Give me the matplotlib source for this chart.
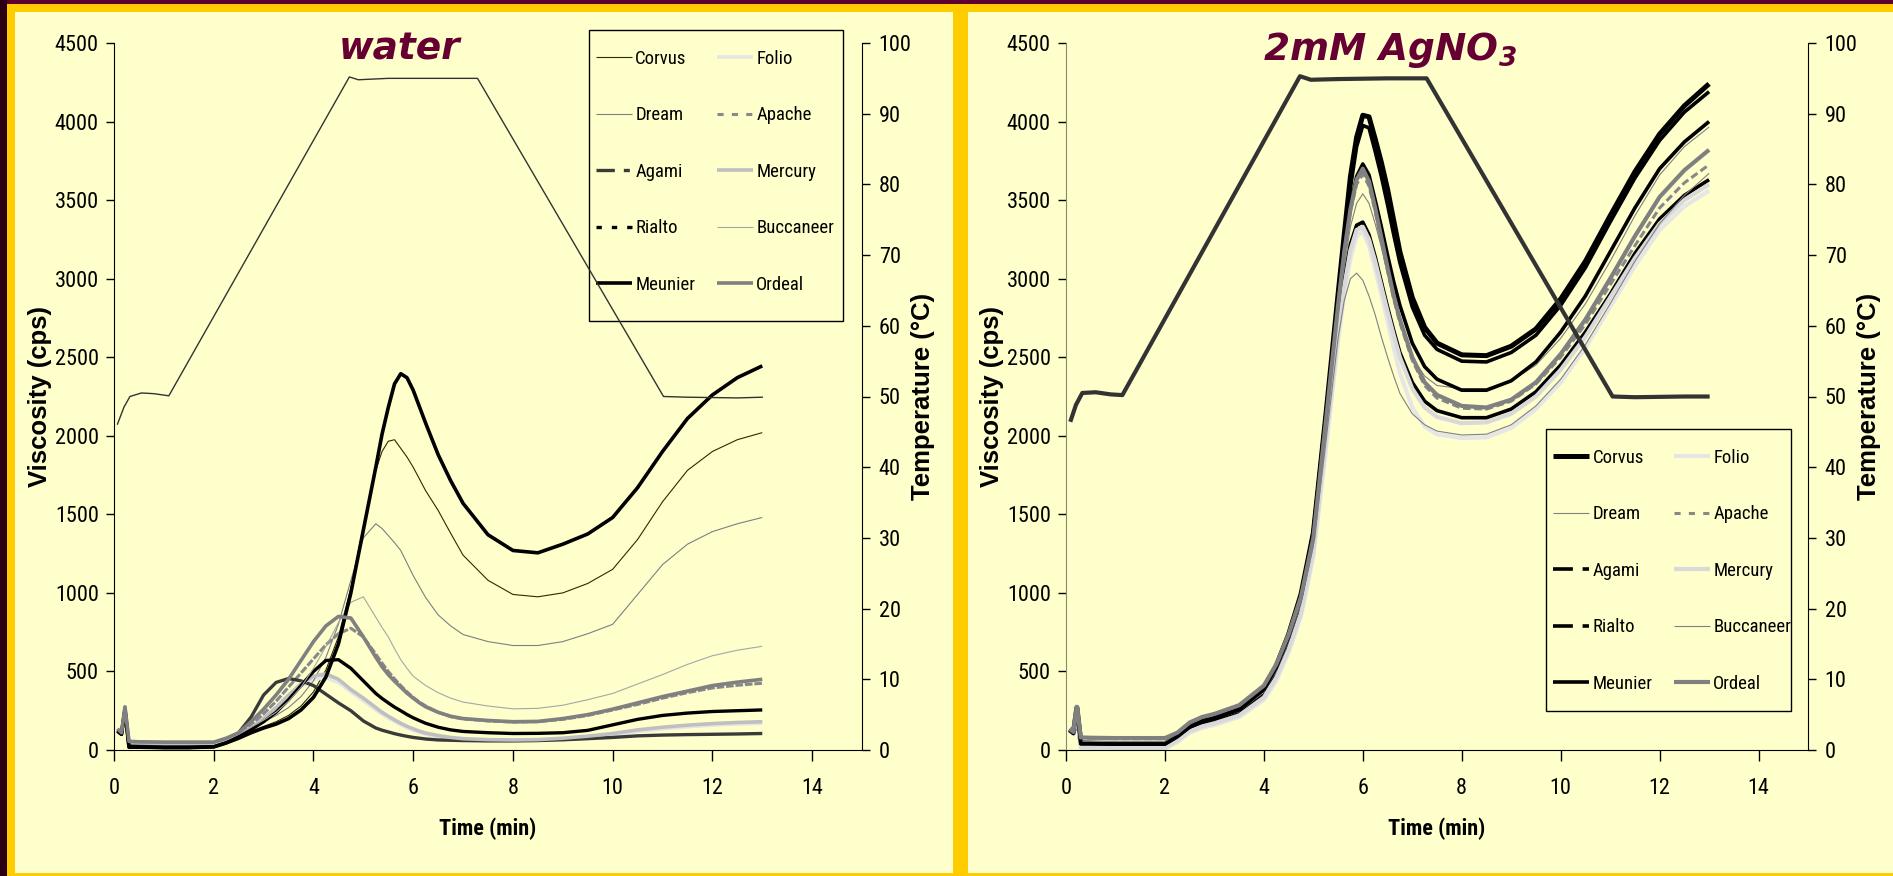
import matplotlib
matplotlib.use("Agg")
import matplotlib.pyplot as plt
import matplotlib.font_manager as fm
from matplotlib.patches import Rectangle
from matplotlib.lines import Line2D
from matplotlib.font_manager import FontProperties

# ---------------- data ----------------
t_water = [0.07, 0.15, 0.22, 0.3, 0.5, 1.0, 1.5, 2.0,
           2.25, 2.5, 2.75, 3.0, 3.25, 3.5, 3.75, 4.0, 4.25, 4.5, 4.75, 5.0,
           5.25, 5.375, 5.5, 5.625, 5.75, 5.875, 6.0, 6.125, 6.25, 6.5, 6.75, 7.0,
           7.5, 8.0, 8.5, 9.0, 9.5, 10.0, 10.5, 11.0, 11.5, 12.0, 12.5, 13.0]

water_corvus = [125, 105, 265, 30, 30, 28, 28, 30,
                55, 85, 120, 150, 180, 220, 280, 370, 510, 720, 1030, 1420,
                1780, 1900, 1965, 1975, 1920, 1865, 1800, 1725, 1650, 1525, 1380, 1240,
                1080, 990, 975, 1000, 1060, 1150, 1340, 1580, 1780, 1900, 1975, 2020]
water_folio = [130, 105, 270, 55, 52, 50, 50, 50,
               70, 95, 145, 200, 265, 340, 405, 450, 460, 430, 370, 315,
               255, 228, 205, 182, 160, 141, 125, 112, 100, 85, 75, 68,
               62, 60, 62, 70, 82, 98, 118, 135, 148, 158, 165, 170]
water_dream = [130, 105, 270, 45, 42, 40, 40, 40,
               65, 100, 140, 180, 220, 270, 340, 440, 590, 800, 1080, 1350,
               1440, 1410, 1365, 1320, 1270, 1190, 1110, 1040, 970, 860, 790, 735,
               690, 665, 665, 690, 740, 800, 990, 1180, 1310, 1390, 1440, 1480]
water_apache = [130, 105, 270, 52, 50, 48, 48, 48,
                70, 100, 160, 230, 310, 400, 490, 580, 670, 740, 775, 720,
                610, 553, 500, 453, 410, 370, 335, 305, 280, 240, 212, 198,
                185, 178, 180, 195, 220, 255, 290, 330, 365, 395, 412, 425]
water_agami = [125, 100, 260, 35, 32, 30, 30, 30,
               55, 110, 210, 350, 430, 455, 440, 410, 355, 300, 250, 185,
               140, 126, 115, 104, 95, 87, 80, 75, 70, 64, 62, 60,
               58, 58, 60, 65, 72, 80, 90, 95, 98, 100, 102, 105]
water_mercury = [130, 105, 270, 48, 45, 42, 42, 42,
                 62, 90, 140, 200, 270, 350, 420, 470, 485, 450, 385, 330,
                 270, 240, 215, 192, 170, 151, 135, 120, 108, 92, 80, 72,
                 66, 64, 66, 75, 88, 105, 128, 145, 158, 168, 175, 180]
water_rialto = [120, 100, 255, 20, 20, 16, 16, 20,
                45, 85, 130, 180, 240, 320, 410, 500, 570, 575, 520, 440,
                360, 328, 300, 273, 250, 226, 205, 187, 170, 145, 128, 118,
                110, 105, 106, 110, 125, 160, 195, 220, 235, 245, 250, 255]
water_buccaneer = [130, 105, 270, 50, 45, 42, 42, 42,
                   65, 100, 145, 190, 240, 310, 400, 520, 660, 810, 940, 975,
                   845, 780, 720, 645, 575, 520, 470, 440, 410, 365, 330, 305,
                   280, 262, 265, 285, 320, 360, 420, 480, 545, 600, 635, 660]
water_meunier = [120, 100, 255, 18, 18, 15, 15, 20,
                 45, 75, 110, 140, 165, 200, 255, 335, 465, 675, 1000, 1400,
                 1800, 2010, 2180, 2330, 2395, 2370, 2290, 2185, 2080, 1880, 1715, 1570,
                 1370, 1270, 1255, 1310, 1375, 1480, 1670, 1900, 2110, 2260, 2370, 2445]
water_ordeal = [135, 110, 275, 55, 52, 50, 50, 50,
                75, 110, 180, 260, 350, 450, 570, 690, 790, 850, 840, 720,
                590, 530, 480, 438, 400, 362, 330, 300, 275, 240, 215, 200,
                188, 180, 182, 200, 225, 260, 300, 340, 375, 410, 432, 450]

t_temp_water = [0.07, 0.2, 0.32, 0.55, 0.8, 1.1, 4.72, 4.9, 5.5, 6.5, 7.29, 11.02, 11.5, 12.5, 13.0]
temp_water = [46.1, 48.5, 50.0, 50.5, 50.4, 50.1, 95.2, 94.8, 95.0, 95.0, 95.0, 50.0, 49.9, 49.8, 49.9]

t_agno3 = [0.07, 0.15, 0.22, 0.3, 0.5, 1.0, 1.5, 2.0,
           2.25, 2.5, 2.75, 3.0, 3.5, 4.0, 4.25, 4.5, 4.75, 5.0, 5.25, 5.5,
           5.625, 5.75, 5.875, 6.0, 6.125, 6.25, 6.375, 6.5, 6.625, 6.75, 7.0, 7.25, 7.5,
           8.0, 8.5, 9.0, 9.5, 10.0, 10.5, 11.0, 11.5, 12.0, 12.5, 13.0]

agno3_corvus = [130, 110, 270, 45, 42, 40, 40, 40,
                90, 150, 185, 205, 265, 395, 535, 735, 990, 1380, 2120, 2900,
                3280, 3650, 3900, 4040, 4030, 3890, 3740, 3570, 3370, 3170, 2880, 2690, 2590,
                2515, 2510, 2570, 2680, 2870, 3110, 3400, 3680, 3920, 4100, 4240]
agno3_folio = [125, 100, 260, 10, 10, 8, 8, 8,
               50, 110, 140, 160, 210, 320, 440, 620, 850, 1230, 1900, 2600,
               2900, 3130, 3270, 3300, 3210, 3060, 2900, 2730, 2560, 2400, 2180, 2060, 2010,
               1985, 1990, 2050, 2170, 2340, 2560, 2820, 3080, 3310, 3460, 3560]
agno3_dream = [130, 105, 270, 60, 58, 55, 55, 55,
               95, 160, 195, 215, 270, 400, 535, 730, 970, 1340, 2050, 2760,
               3080, 3330, 3480, 3540, 3480, 3350, 3200, 3040, 2870, 2720, 2500, 2380, 2320,
               2300, 2300, 2350, 2450, 2620, 2840, 3110, 3400, 3660, 3840, 3965]
agno3_apache = [130, 110, 270, 75, 75, 72, 72, 72,
                105, 170, 205, 225, 280, 405, 540, 730, 975, 1370, 2120, 2860,
                3180, 3430, 3600, 3665, 3590, 3430, 3240, 3050, 2870, 2720, 2480, 2320, 2240,
                2175, 2170, 2220, 2330, 2500, 2710, 2960, 3210, 3450, 3610, 3725]
agno3_agami = [125, 105, 260, 30, 30, 28, 28, 28,
               70, 130, 160, 180, 230, 350, 480, 665, 900, 1300, 2000, 2700,
               2990, 3220, 3340, 3360, 3280, 3140, 2980, 2820, 2670, 2530, 2340, 2220, 2160,
               2115, 2115, 2170, 2280, 2450, 2660, 2900, 3160, 3380, 3530, 3630]
agno3_mercury = [130, 105, 270, 20, 18, 15, 15, 15,
                 60, 120, 150, 170, 220, 335, 460, 640, 870, 1260, 1950, 2650,
                 2950, 3180, 3310, 3330, 3250, 3110, 2950, 2790, 2640, 2500, 2300, 2180, 2120,
                 2080, 2085, 2140, 2250, 2420, 2630, 2880, 3130, 3350, 3500, 3600]
agno3_rialto = [125, 105, 265, 40, 40, 38, 38, 38,
                85, 150, 185, 205, 260, 390, 530, 725, 980, 1390, 2130, 2870,
                3200, 3470, 3650, 3730, 3660, 3500, 3330, 3150, 2980, 2830, 2590, 2440, 2360,
                2290, 2290, 2350, 2470, 2660, 2890, 3170, 3450, 3700, 3870, 4000]
agno3_buccaneer = [130, 105, 270, 55, 55, 52, 52, 52,
                   90, 150, 180, 200, 250, 370, 500, 690, 930, 1300, 1950, 2620,
                   2860, 3000, 3035, 2990, 2890, 2770, 2630, 2500, 2380, 2270, 2140, 2070, 2030,
                   2005, 2010, 2070, 2190, 2360, 2580, 2840, 3110, 3350, 3530, 3670]
agno3_meunier = [130, 110, 270, 40, 40, 38, 38, 38,
                 85, 145, 180, 200, 255, 385, 525, 720, 975, 1380, 2120, 2880,
                 3250, 3580, 3840, 3975, 3960, 3810, 3650, 3470, 3280, 3100, 2820, 2640, 2550,
                 2475, 2470, 2530, 2640, 2830, 3070, 3360, 3640, 3880, 4060, 4190]
agno3_ordeal = [135, 115, 275, 80, 78, 76, 76, 76,
                110, 175, 210, 230, 285, 410, 545, 735, 975, 1350, 2080, 2830,
                3170, 3440, 3630, 3700, 3620, 3450, 3260, 3070, 2890, 2740, 2500, 2340, 2260,
                2190, 2180, 2230, 2340, 2520, 2740, 3000, 3270, 3520, 3690, 3820]

t_temp_agno3 = [0.1, 0.2, 0.33, 0.6, 0.9, 1.14, 4.73, 4.95, 5.5, 6.5, 7.29, 11.05, 11.5, 12.5, 12.97]
temp_agno3 = [46.7, 48.8, 50.5, 50.6, 50.3, 50.2, 95.3, 94.8, 94.9, 95.0, 95.0, 50.0, 49.9, 50.0, 50.0]

varieties = ["Corvus", "Folio", "Dream", "Apache", "Agami",
             "Mercury", "Rialto", "Buccaneer", "Meunier", "Ordeal"]
water_series = [water_corvus, water_folio, water_dream, water_apache, water_agami,
                water_mercury, water_rialto, water_buccaneer, water_meunier, water_ordeal]
agno3_series = [agno3_corvus, agno3_folio, agno3_dream, agno3_apache, agno3_agami,
                agno3_mercury, agno3_rialto, agno3_buccaneer, agno3_meunier, agno3_ordeal]

visc_ticks = list(range(0, 4501, 500))
temp_ticks = list(range(0, 101, 10))
time_ticks = list(range(0, 15, 2))

# ---------------- fonts ----------------
def pick_narrow():
    entries = fm.fontManager.ttflist
    names = {f.name for f in entries}
    for cand in ("Liberation Sans Narrow", "Arial Narrow", "Roboto Condensed",
                 "DejaVu Sans Condensed", "Open Sans Condensed", "Noto Sans Condensed"):
        if cand in names:
            return dict(family=[cand, "DejaVu Sans"]), True
    for f in entries:
        if f.stretch in ("condensed", "semi-condensed") and f.style == "normal" \
                and f.name in ("DejaVu Sans", "Noto Sans", "Roboto", "Open Sans", "Liberation Sans"):
            return dict(family=[f.name, "DejaVu Sans"], stretch="condensed"), True
    return dict(family=["Liberation Sans", "DejaVu Sans"]), False


NARROW_KW, HAVE_NARROW = pick_narrow()
TICK_SIZE = 16 if HAVE_NARROW else 14
LEG_SIZE = 13.5 if HAVE_NARROW else 11.5

# ---------------- styles ----------------
DASHDOT = (0, (5.5, 2.7, 1.8, 2.7))
water_styles = {
    "Corvus": dict(color="#2B2B00", lw=0.8, ls="-", pls="-"),
    "Folio": dict(color="#E6E6E6", lw=2.6, ls="-", pls="-"),
    "Dream": dict(color="#7F7F7F", lw=0.8, ls="-", pls="-"),
    "Apache": dict(color="#888888", lw=2.2, ls=(0, (2, 2.7)), pls=(0, (2.5, 0.6))),
    "Agami": dict(color="#3A3A3A", lw=2.4, ls=DASHDOT, pls="-"),
    "Mercury": dict(color="#BFBFBF", lw=2.6, ls="-", pls="-"),
    "Rialto": dict(color="black", lw=2.4, ls=(0, (1.6, 3.0)), pls="-"),
    "Buccaneer": dict(color="#A6A6A6", lw=0.8, ls="-", pls="-"),
    "Meunier": dict(color="black", lw=2.6, ls="-", pls="-"),
    "Ordeal": dict(color="#808080", lw=2.6, ls="-", pls="-"),
}
agno3_styles = {
    "Corvus": dict(color="black", lw=3.6, ls="-", pls="-"),
    "Folio": dict(color="#E6E6E6", lw=3.0, ls="-", pls="-"),
    "Dream": dict(color="#808080", lw=0.8, ls="-", pls="-"),
    "Apache": dict(color="#888888", lw=2.2, ls=(0, (2, 2.7)), pls=(0, (2.5, 1.2))),
    "Agami": dict(color="black", lw=2.6, ls=DASHDOT, pls="-"),
    "Mercury": dict(color="#D9D9D9", lw=3.0, ls="-", pls="-"),
    "Rialto": dict(color="black", lw=2.6, ls=DASHDOT, pls="-"),
    "Buccaneer": dict(color="#808080", lw=0.8, ls="-", pls="-"),
    "Meunier": dict(color="black", lw=2.6, ls="-", pls="-"),
    "Ordeal": dict(color="#808080", lw=3.0, ls="-", pls="-"),
}

GOLD = "#FFCC00"
PANEL = "#FFFFCC"
TITLE_C = "#660033"

plt.rcParams["font.family"] = NARROW_KW["family"]
if "stretch" in NARROW_KW:
    plt.rcParams["font.stretch"] = NARROW_KW["stretch"]
plt.rcParams["mathtext.fontset"] = "custom"
plt.rcParams["mathtext.rm"] = "DejaVu Sans:bold:italic"
plt.rcParams["mathtext.it"] = "DejaVu Sans:bold:italic"
plt.rcParams["mathtext.default"] = "rm"

W, H = 1893, 876
fig = plt.figure(figsize=(W / 100, H / 100), dpi=100)
fig.patch.set_facecolor(GOLD)


def fx(px):
    return px / W


def fy(py):
    return 1 - py / H


def rect_px(x0, y0, x1, y1, color):
    fig.add_artist(Rectangle((fx(x0), fy(y1)), (x1 - x0) / W, (y1 - y0) / H,
                             transform=fig.transFigure, facecolor=color,
                             edgecolor="none", zorder=-5))


# frame decoration
rect_px(0, 0, W, 4, "#5E0030")
rect_px(0, 0, 7, H, "#2A0012")
rect_px(15, 12, 953, 873, PANEL)
rect_px(968, 12, W, 873, PANEL)

legend_order = ["Corvus", "Dream", "Agami", "Rialto", "Meunier",
                "Folio", "Apache", "Mercury", "Buccaneer", "Ordeal"]


def make_panel(x0, x1, t, series, styles, t_temp, temp, temp_lw, box, spine_c):
    ax = fig.add_axes([fx(x0), fy(750), (x1 - x0) / W, (750 - 43) / H])
    ax.set_facecolor("none")
    for name, vals in zip(varieties, series):
        st = styles[name]
        ax.plot(t, vals, color=st["color"], lw=st["lw"], linestyle=st["pls"],
                solid_capstyle="butt", dash_capstyle="butt", solid_joinstyle="round")
    ax.set_xlim(0, 15)
    ax.set_ylim(0, 4500)
    ax.set_xticks(time_ticks)
    ax.set_yticks(visc_ticks)
    ax.spines["top"].set_visible(False)
    ax.spines["right"].set_visible(False)
    ax.spines["left"].set_color(spine_c)
    ax.spines["bottom"].set_color("black")
    ax.tick_params(axis="y", direction="out", length=6, width=1, pad=5, labelsize=TICK_SIZE)
    ax.tick_params(axis="x", direction="out", length=8, width=1, pad=12, labelsize=TICK_SIZE)
    ax.set_xlabel("Time (min)", fontsize=16, fontweight="bold")
    ax.xaxis.set_label_coords(0.5, -0.095)
    ax.set_ylabel("Viscosity (cps)", fontsize=18.5, fontweight="bold",
                  family=["Liberation Sans", "DejaVu Sans"], stretch="normal")
    ax.yaxis.set_label_coords(-0.083, 0.5)

    ax2 = ax.twinx()
    ax2.set_facecolor("none")
    ax2.plot(t_temp, temp, color="#333333", lw=temp_lw, solid_joinstyle="round")
    ax2.set_ylim(0, 100)
    ax2.set_yticks(temp_ticks)
    for s in ("top", "left", "bottom"):
        ax2.spines[s].set_visible(False)
    ax2.spines["right"].set_color("black")
    ax2.tick_params(axis="y", direction="out", length=6, width=1, pad=6, labelsize=TICK_SIZE)
    ax2.set_ylabel("Temperature (°C)", fontsize=18.5, fontweight="bold",
                   family=["Liberation Sans", "DejaVu Sans"], stretch="normal")
    ax2.yaxis.set_label_coords(1.066, 0.5)

    # legend box (frame drawn separately so the padding matches the original)
    bx0, by0, bx1, by1 = box
    ax.add_patch(Rectangle((fx(bx0), fy(by1)), (bx1 - bx0) / W, (by1 - by0) / H,
                           transform=fig.transFigure, facecolor=PANEL, edgecolor="black",
                           lw=1.0, zorder=4, clip_on=False))
    proxies = [Line2D([], [], color=styles[n]["color"], lw=styles[n]["lw"],
                      linestyle=styles[n]["ls"], solid_capstyle="butt",
                      dash_capstyle="butt") for n in legend_order]
    leg = ax.legend(proxies, legend_order,
                    loc="upper left", bbox_to_anchor=(fx(bx0 + 7), fy(by0 + 20)),
                    bbox_transform=fig.transFigure, ncol=2, frameon=False,
                    prop=FontProperties(size=LEG_SIZE, **NARROW_KW),
                    handlelength=1.9, handletextpad=0.2, columnspacing=1.15,
                    labelspacing=2.05, borderpad=0.0, borderaxespad=0)
    leg.set_zorder(5)
    return ax, ax2


make_panel(114, 862, t_water, water_series, water_styles, t_temp_water, temp_water,
           1.0, (589, 30, 843, 321), "black")
make_panel(1066, 1808, t_agno3, agno3_series, agno3_styles, t_temp_agno3, temp_agno3,
           3.0, (1546, 429, 1791, 711), "#8A8A6A")

fig.text(fx(400), fy(60), "water", fontsize=27, fontweight="bold", fontstyle="italic",
         family="DejaVu Sans", stretch="normal", color=TITLE_C, ha="center", va="baseline")
fig.text(fx(1390), fy(60), "2mM AgNO$_3$", fontsize=27, fontweight="bold", fontstyle="italic",
         family="DejaVu Sans", stretch="normal", color=TITLE_C, ha="center", va="baseline")

fig.savefig("out.png", dpi=100, facecolor=GOLD)
